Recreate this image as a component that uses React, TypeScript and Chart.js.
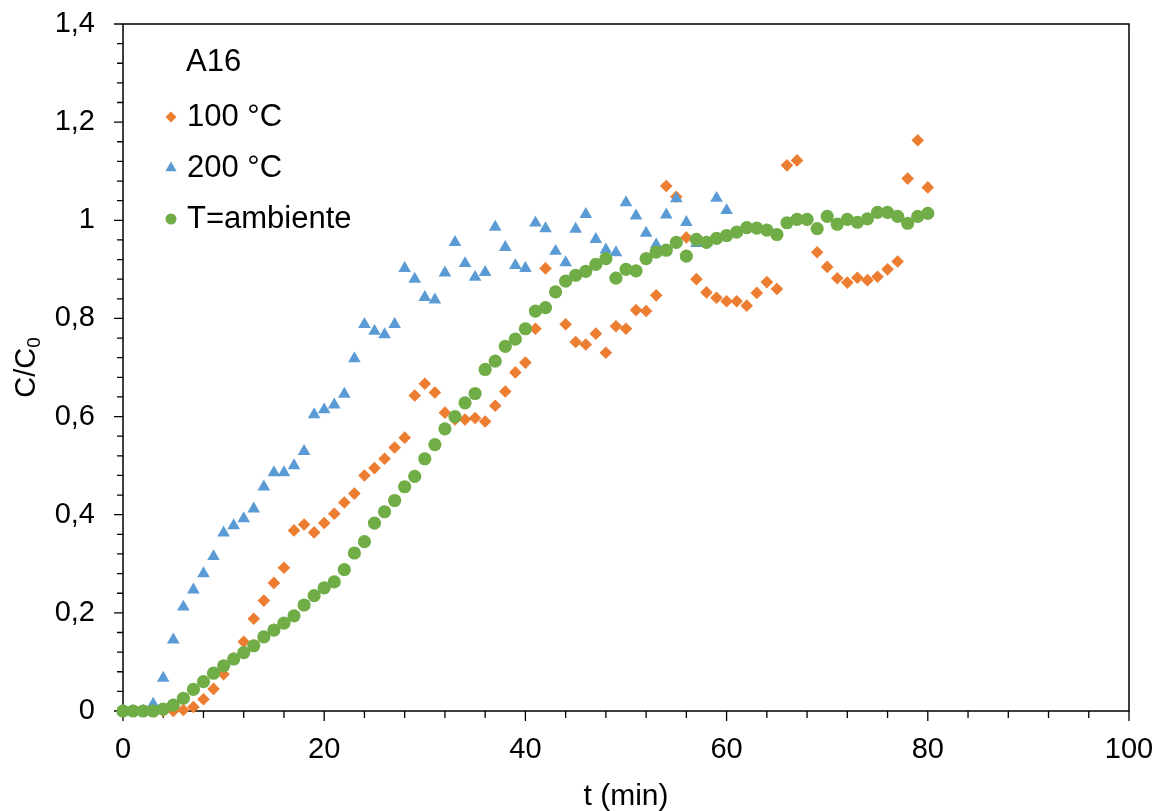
import React, { useEffect, useRef } from 'react';
import { Chart, registerables } from 'chart.js';

Chart.register(...registerables);

const FONT = '"Liberation Sans", Arial, Helvetica, sans-serif';

// time (min)
const timeMin = [
  0, 1, 2, 3, 4, 5, 6, 7, 8, 9, 10, 11, 12, 13, 14, 15, 16, 17, 18, 19, 20,
  21, 22, 23, 24, 25, 26, 27, 28, 29, 30, 31, 32, 33, 34, 35, 36, 37, 38, 39, 40,
  41, 42, 43, 44, 45, 46, 47, 48, 49, 50, 51, 52, 53, 54, 55, 56, 57, 58, 59, 60,
  61, 62, 63, 64, 65, 66, 67, 68, 69, 70, 71, 72, 73, 74, 75, 76, 77, 78, 79, 80,
];

// 100 °C (t = 0..80)
const values100 = [
  0, 0, 0, 0, 0, 0, 0.002, 0.008, 0.024, 0.045, 0.075,
  0.108, 0.141, 0.188, 0.225, 0.261, 0.292, 0.368, 0.38, 0.364, 0.383,
  0.402, 0.425, 0.443, 0.48, 0.495, 0.514, 0.537, 0.557, 0.643, 0.667,
  0.649, 0.608, 0.594, 0.594, 0.597, 0.59, 0.622, 0.651, 0.69, 0.71,
  0.779, 0.902, 0.855, 0.788, 0.752, 0.747, 0.769, 0.73, 0.784, 0.779,
  0.817, 0.815, 0.847, 1.07, 1.048, 0.965, 0.88, 0.853, 0.842, 0.835,
  0.835, 0.826, 0.852, 0.874, 0.86, 1.112, 1.122, 1.0, 0.935, 0.905,
  0.882, 0.873, 0.883, 0.878, 0.885, 0.9, 0.916, 1.085, 1.163, 1.067,
];

// 200 °C (t = 0..60)
const values200 = [
  0, 0, 0, 0.014, 0.067, 0.145, 0.212, 0.247, 0.28, 0.315, 0.363,
  0.378, 0.392, 0.412, 0.457, 0.486, 0.486, 0.5, 0.529, 0.604, 0.614,
  0.624, 0.646, 0.718, 0.788, 0.774, 0.767, 0.788, 0.902, 0.88, 0.843,
  0.838, 0.893, 0.955, 0.912, 0.884, 0.894, 0.986, 0.945, 0.908, 0.902,
  0.995, 0.983, 0.937, 0.914, 0.982, 1.012, 0.961, 0.94, 0.934, 1.036,
  1.009, 0.974, 0.95, 1.011, 1.044, 0.996, 0.953, 0.955, 1.045, 1.02,
];

// T = ambiente (t = 0..80)
const valuesAmb = [
  0, 0, 0, 0, 0.004, 0.012, 0.026, 0.044, 0.06, 0.077, 0.092,
  0.106, 0.119, 0.133, 0.151, 0.165, 0.179, 0.194, 0.216, 0.235, 0.251,
  0.263, 0.288, 0.322, 0.345, 0.383, 0.406, 0.429, 0.457, 0.478, 0.514,
  0.543, 0.575, 0.6, 0.628, 0.647, 0.696, 0.713, 0.743, 0.758, 0.779,
  0.815, 0.822, 0.854, 0.876, 0.888, 0.896, 0.91, 0.922, 0.882, 0.9,
  0.897, 0.922, 0.935, 0.939, 0.955, 0.927, 0.961, 0.955, 0.963, 0.969,
  0.976, 0.985, 0.984, 0.98, 0.971, 0.995, 1.002, 1.002, 0.983, 1.008,
  0.992, 1.002, 0.996, 1.003, 1.016, 1.016, 1.008, 0.994, 1.008, 1.014,
];

const legendTitle = 'A16';
const seriesLabels = ['100 °C', '200 °C', 'T=ambiente'];
const seriesColors = ['#ED7D31', '#5B9BD5', '#70AD47'];
const seriesShapes = ['rectRot', 'triangle', 'circle'];
const xTitle = 't (min)';
const yTitleMain = 'C/C';
const yTitleSub = '0';
const xMajorStep = 20;
const xMinorStep = 4;
const yMajorStep = 0.2;
const yMinorStep = 0.04;
const xMin = 0;
const xMax = 100;
const yMin = 0;
const yMax = 1.4;

const fmt = (v: number) => {
  const r = Math.round(v * 10) / 10;
  return String(r).replace('.', ',');
};

function drawShape(ctx: CanvasRenderingContext2D, shape: string, x: number, y: number, r: number) {
  ctx.beginPath();
  if (shape === 'circle') {
    ctx.arc(x, y, r, 0, Math.PI * 2);
  } else if (shape === 'rectRot') {
    ctx.moveTo(x, y - r);
    ctx.lineTo(x + r, y);
    ctx.lineTo(x, y + r);
    ctx.lineTo(x - r, y);
    ctx.closePath();
  } else {
    const h = r * 0.866;
    ctx.moveTo(x, y - r);
    ctx.lineTo(x + h, y + r / 2);
    ctx.lineTo(x - h, y + r / 2);
    ctx.closePath();
  }
  ctx.fill();
}

const framePlugin = {
  id: 'frameAndTicks',
  beforeDatasetsDraw(chart: any) {
    const { ctx, chartArea: a, scales } = chart;
    const xs = scales.x;
    const ys = scales.y;
    ctx.save();
    ctx.strokeStyle = '#000';
    ctx.lineWidth = 1.5;
    ctx.beginPath();
    ctx.rect(a.left, a.top, a.right - a.left, a.bottom - a.top);
    ctx.stroke();
    ctx.lineWidth = 1.3;
    ctx.beginPath();
    const nY = Math.round((yMax - yMin) / yMinorStep);
    for (let i = 0; i <= nY; i++) {
      const v = yMin + i * yMinorStep;
      const p = ys.getPixelForValue(v);
      const major = i % Math.round(yMajorStep / yMinorStep) === 0;
      ctx.moveTo(a.left - (major ? 9 : 6), p);
      ctx.lineTo(a.left, p);
    }
    const nX = Math.round((xMax - xMin) / xMinorStep);
    for (let i = 0; i <= nX; i++) {
      const v = xMin + i * xMinorStep;
      const p = xs.getPixelForValue(v);
      const major = i % Math.round(xMajorStep / xMinorStep) === 0;
      ctx.moveTo(p, a.bottom);
      ctx.lineTo(p, a.bottom + (major ? 10 : 7));
    }
    ctx.stroke();
    ctx.restore();
  },
  afterDraw(chart: any) {
    const { ctx, chartArea: a } = chart;
    ctx.save();
    ctx.fillStyle = '#000';
    // x title
    ctx.font = `30px ${FONT}`;
    ctx.textAlign = 'center';
    ctx.textBaseline = 'middle';
    ctx.fillText(xTitle, (a.left + a.right) / 2, 797);
    // y title with subscript
    ctx.save();
    ctx.translate(25, (a.top + a.bottom) / 2);
    ctx.rotate(-Math.PI / 2);
    ctx.font = `29px ${FONT}`;
    const wMain = ctx.measureText(yTitleMain).width;
    ctx.font = `19px ${FONT}`;
    const wSub = ctx.measureText(yTitleSub).width;
    const start = -(wMain + wSub) / 2;
    ctx.textAlign = 'left';
    ctx.textBaseline = 'alphabetic';
    ctx.font = `29px ${FONT}`;
    ctx.fillText(yTitleMain, start, 10);
    ctx.font = `19px ${FONT}`;
    ctx.fillText(yTitleSub, start + wMain, 15);
    ctx.restore();
    // legend
    ctx.font = `31px ${FONT}`;
    ctx.textAlign = 'left';
    ctx.textBaseline = 'middle';
    ctx.fillText(legendTitle, 186, 62);
    const rowsY = [117, 168, 219];
    seriesLabels.forEach((lab, i) => {
      ctx.fillStyle = seriesColors[i];
      drawShape(ctx, seriesShapes[i], 171, rowsY[i], i === 1 ? 6.5 : 5.5);
      ctx.fillStyle = '#000';
      ctx.fillText(lab, 187, rowsY[i]);
    });
    ctx.restore();
  },
};

export default function App() {
  const ref = useRef<HTMLCanvasElement | null>(null);
  useEffect(() => {
    if (!ref.current) return;
    const mk = (vals: number[]) => vals.map((v, i) => ({ x: timeMin[i], y: v }));
    const chart = new Chart(ref.current, {
      type: 'scatter',
      data: {
        datasets: [
          {
            label: seriesLabels[0],
            data: mk(values100),
            backgroundColor: seriesColors[0],
            borderWidth: 0,
            pointStyle: 'rectRot',
            pointRadius: 6.3,
            order: 3,
            clip: false,
          },
          {
            label: seriesLabels[1],
            data: mk(values200),
            backgroundColor: seriesColors[1],
            borderWidth: 0,
            pointStyle: 'triangle',
            pointRadius: 7.3,
            order: 2,
            clip: false,
          },
          {
            label: seriesLabels[2],
            data: mk(valuesAmb),
            backgroundColor: seriesColors[2],
            borderWidth: 0,
            pointStyle: 'circle',
            pointRadius: 6.6,
            order: 1,
            clip: false,
          },
        ] as any,
      },
      options: {
        animation: false,
        responsive: false,
        devicePixelRatio: 1,
        layout: { padding: { top: 24, right: 35, left: 0, bottom: 0 } },
        plugins: {
          legend: { display: false },
          tooltip: { enabled: false },
        },
        scales: {
          x: {
            type: 'linear',
            min: xMin,
            max: xMax,
            grid: { display: false, drawTicks: false },
            border: { display: false },
            ticks: {
              stepSize: xMajorStep,
              padding: 22,
              color: '#000',
              font: { family: FONT, size: 29 },
              maxRotation: 0,
              callback: (v: any) => fmt(Number(v)),
            },
            afterFit: (s: any) => {
              s.height = 100;
              s.paddingLeft = 0;
              s.paddingRight = 0;
              s.paddingTop = 0;
              s.paddingBottom = 0;
            },
          },
          y: {
            type: 'linear',
            min: yMin,
            max: yMax,
            grid: { display: false, drawTicks: false },
            border: { display: false },
            ticks: {
              stepSize: yMajorStep,
              padding: 28,
              color: '#000',
              font: { family: FONT, size: 29 },
              callback: (v: any) => fmt(Number(v)),
            },
            afterFit: (s: any) => {
              s.width = 123;
              s.paddingLeft = 0;
              s.paddingRight = 0;
              s.paddingTop = 0;
              s.paddingBottom = 0;
            },
          },
        },
      } as any,
      plugins: [framePlugin],
    });
    return () => chart.destroy();
  }, []);
  return (
    <div style={{ position: 'absolute', left: 0, top: 0, width: 1164, height: 811, background: '#fff' }}>
      <canvas ref={ref} width={1164} height={811} style={{ display: 'block' }} />
    </div>
  );
}
